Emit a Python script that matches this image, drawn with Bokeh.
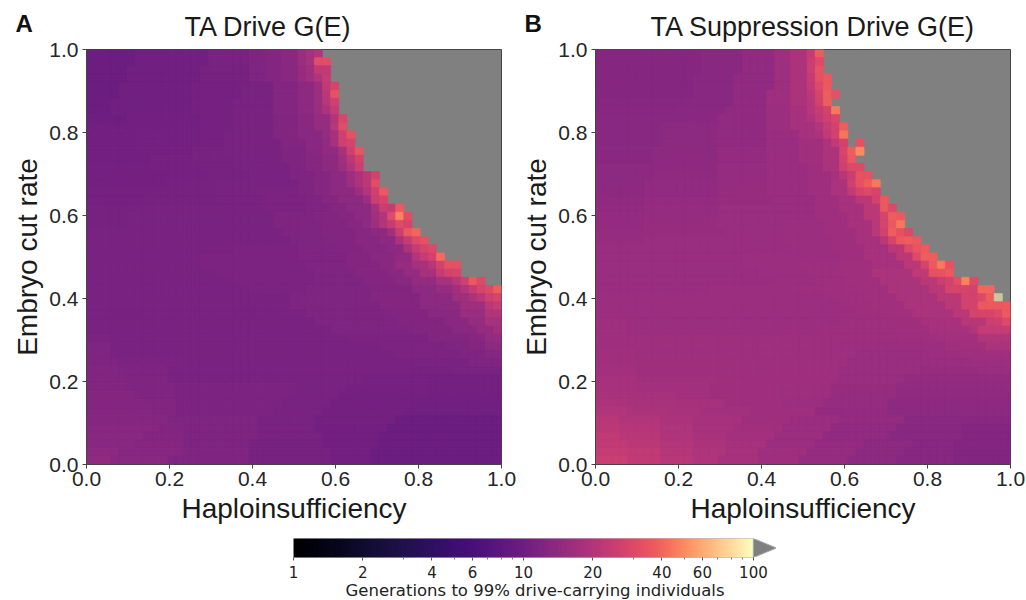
import numpy as np
from bokeh.plotting import figure
from bokeh.layouts import column, row
from bokeh.models import ColumnDataSource, LogColorMapper, Label, FixedTicker, NumeralTickFormatter
from bokeh.palettes import Magma256
from bokeh.transform import transform
from bokeh.embed import file_html
from bokeh.resources import INLINE

# Each row runs from the top of the panel down; pairs are: generations, end column (exclusive).
# Cells past the last pair are "not reached" (grey); 0 marks one grey cell inside a row; 120 = above 100.
N_CELLS = 51
panel_a_rows = [
 [10,6,10.3,15,11.3,20,12,22,12.6,24,13.5,26,15.5,27,17.5,28,20,29],
 [9.9,6,10.3,15,11.3,20,12,22,12.6,24,13.5,26,15.5,27,17.5,28,32,30],
 [9.8,5,10.3,14,11.1,20,12,22,12.6,24,13.5,26,15,27,17,28,23,30],
 [9.8,5,10.3,14,11,20,11.9,22,12.5,24,13.3,26,15,27,17,28,20,29,24,30],
 [9.7,4,10.2,13,10.8,19,11.5,23,12.6,26,14,28,16,29,23,30,28,31],
 [9.7,4,10.2,13,10.8,19,11.5,23,12.6,26,14,28,16,29,22,30,34,31],
 [9.7,3,10.2,13,10.8,18,11.5,23,12.5,26,13.7,28,16,29,21,30,26,31],
 [10,3,10.3,13,10.8,18,11.5,23,12.5,26,13.7,28,15.5,29,19,30,24,31],
 [10.1,5,10.4,14,10.8,18,11.4,23,12.4,26,13.5,28,15,30,20,31,29,32],
 [10.3,6,10.5,14,10.9,18,11.4,23,12.3,26,13.3,28,15,30,21,31,32,32],
 [10.4,6,10.6,14,10.9,17,11.4,23,12.2,26,13.3,29,15,30,18,31,26,32,33,33],
 [10.4,6,10.6,14,10.9,17,11.4,24,12.2,27,13.2,29,14.5,30,18,31,26,32,28,33],
 [10.5,6,10.7,13,11,17,11.4,24,12.1,27,13,29,14.5,31,18,32,26,33,35,34],
 [10.5,8,10.8,13,11,18,11.4,24,12,27,12.8,29,14,31,17,32,22,33,27,34],
 [10.6,8,10.9,14,11.1,19,11.4,25,12,27,12.7,29,13.8,31,16,32,20,33,25,34],
 [10.6,10,10.9,15,11.1,20,11.5,25,12,28,12.7,30,13.8,32,16,33,19,34,22,35,27,36],
 [10.7,10,11,16,11.2,21,11.5,26,12,28,12.7,30,13.8,32,16,33,19,34,22,35,32,36],
 [10.8,8,11,16,11.3,21,11.6,26,12,28,12.8,30,13.8,33,16,34,20,35,26,36,36,37],
 [10.9,7,11.1,16,11.3,22,11.7,27,12.1,29,12.8,31,13.8,34,16,35,25,36,28,37],
 [11,6,11.2,16,11.4,22,11.7,27,12.1,30,12.8,32,13.8,35,18,36,25,37,24,38,36,39],
 [11,5,11.2,16,11.4,23,11.8,28,12.2,31,12.8,33,14,35,17,36,20,37,31,38,48,39,32,40],
 [11.1,5,11.3,16,11.5,23,11.8,29,12.2,32,13,34,14.2,35,16,36,20,37,24,38,30,39,28,40],
 [11.2,5,11.4,17,11.5,24,11.9,29,12.3,33,13,35,14,37,17,38,25,39,36,40,40,41],
 [11.3,6,11.4,17,11.5,25,11.9,30,12.3,33,13,36,14,38,19,39,24,40,30,41,33,42],
 [11.4,6,11.5,18,11.6,26,12,31,12.4,34,13,37,14,39,19,40,24,41,28,42,30,43],
 [11.5,14,11.6,26,12,32,12.5,35,13.1,38,14.5,40,20,41,24,42,27,43,42,44],
 [11.5,14,11.6,27,12,32,12.5,36,13.2,38,15,40,18,42,21,43,27,44,33,46],
 [11.5,16,11.6,28,11.9,33,12.5,37,13.3,39,14.7,41,17.5,43,24,44,27,45,28,46],
 [11.5,18,11.6,28,11.9,34,12.5,38,13.3,40,14.7,43,17.5,45,21,46,26,47,36,48,30,49],
 [11.5,20,11.6,27,11.9,35,12.4,40,13.6,43,15,45,17,46,20,47,24,48,28,49,30,50,38,51],
 [11.5,25,11.9,35,12.5,41,14,45,16.5,47,19,48,22,49,26,50,28,51],
 [11.5,25,11.9,36,12.5,41,13.6,46,16.5,49,22,50,24,51],
 [11.5,27,11.9,37,12.4,42,13.3,46,15.5,49,20,51],
 [11.5,28,11.8,38,12.4,44,13.3,47,15,49,18,51],
 [11.5,30,11.8,40,12.4,45,13.3,48,14.6,50,17,51],
 [11.6,3,11.4,32,11.7,42,12.2,47,13,49,14.6,51],
 [11.8,3,11.4,36,11.6,44,11.9,47,12.5,49,13.6,51],
 [12,3,11.5,38,11.6,46,12,49,12.8,51],
 [12.1,4,11.6,12,11.5,36,11.3,42,11.5,47,12,51],
 [12.2,4,11.8,10,11.5,30,11.3,40,11.1,45,11.5,51],
 [12.4,5,12,10,11.5,26,11.3,34,10.8,42,10.6,51],
 [12.4,5,12,11,11.6,26,11.3,32,10.8,42,10.6,51],
 [12.5,6,12.1,11,11.7,25,11.2,31,10.7,42,10.5,51],
 [12.5,7,12.2,11,11.7,24,11.2,30,10.6,40,10.3,51],
 [12.6,8,12.2,11,11.7,23,11.2,29,10.6,39,10.2,51],
 [12.7,10,11.8,21,11.2,28,10.6,38,10,51],
 [12.9,9,12.4,12,11.8,21,11.2,28,10.5,37,10,51],
 [13.1,7,12.6,12,11.9,21,11.2,29,10.5,36,9.9,51],
 [13.3,6,12.7,12,11.9,20,11.1,29,10.5,36,9.8,51],
 [13.6,4,13,12,12,20,11.1,30,10.5,35,9.7,51],
 [14.2,3,13.2,10,12.1,20,11.1,30,10.5,35,9.7,51],
]
panel_b_rows = [
 [12.8,13,13.3,18,14.5,22,16.5,24,19,26,24,27,38,28],
 [12.8,13,13.3,18,14.5,22,16.5,24,19,26,25,27,30,28],
 [12.8,13,13.3,18,14.5,22,16.5,24,19,26,25,27,34,28],
 [12.8,12,13.3,17,14.5,22,16.5,24,19,26,24,27,33,28,36,29],
 [12.8,12,13.3,17,14.5,22,16.5,24,19,26,23,27,30,28,36,29],
 [12.8,12,13.2,17,14.5,21,16.5,24,18.5,26,22,27,28,28,38,29,33,30],
 [12.9,11,13.3,17,14.5,21,16.5,24,18.5,26,21,27,27,28,38,29],
 [13,10,13.4,16,14.5,21,16,24,18,26,21,27,24,28,27,29,46,30],
 [13.1,9,13.5,15,14.5,21,16,24,17.5,26,20,27,23,28,26,29,29,30],
 [13.2,8,13.6,15,14.5,21,16,24,17.5,27,20,28,24,29,27,30,38,31],
 [13.3,8,13.7,15,14.5,21,15.8,25,17.5,27,19,28,23,29,27,30,44,31],
 [13.3,8,13.7,15,14.5,21,15.8,25,17,28,19,29,23,30,27,31,0,32,33,33],
 [13.4,7,13.8,15,14.7,21,15.8,25,17,28,19,30,28,31,38,32,50,33],
 [13.5,7,13.9,15,14.8,21,15.8,25,17,28,19,30,27,31,36,32],
 [13.6,7,14,15,15,21,15.8,26,16.8,28,18.5,30,26,31,30,33],
 [13.7,7,14.2,15,15,21,15.8,26,16.8,29,18,30,21,31,25,32,34,34],
 [13.9,6,14.4,15,15.1,21,15.8,26,16.8,29,18.5,31,26,32,33,33,38,34,45,35],
 [14,6,14.5,15,15.2,21,15.8,26,16.8,29,18.5,31,23,32,28,33,30,34,28,35],
 [14.2,6,14.7,15,15.3,22,15.8,27,16.8,30,18,32,22,34,27,35,36,36],
 [14.4,6,14.9,15,15.4,22,15.9,27,16.8,30,18,33,22,35,36,36,30,37],
 [14.6,6,15,15,15.5,22,15.9,27,16.8,31,18,33,22,35,28,36,38,37,36,38],
 [14.8,6,15.2,15,15.6,23,16,28,16.8,31,18,34,22,35,28,36,36,37,45,38],
 [15,6,15.3,16,15.7,23,16,28,16.8,32,18,34,22,35,27,36,38,37,33,38,30,39],
 [15.2,6,15.4,16,15.8,23,16.1,29,16.8,32,18,35,22,36,28,37,36,38,38,39,36,40],
 [15.4,8,15.6,17,15.9,24,16.1,29,16.8,33,18,36,22,38,30,39,35,40,37,41],
 [15.5,8,15.7,18,16,24,16.2,30,16.8,33,18,37,22,39,30,40,38,42],
 [15.6,8,15.8,18,16,25,16.3,30,17,34,18,38,22,40,28,41,36,42,46,43,34,44],
 [15.6,10,15.8,20,16.1,26,16.4,30,17,34,18.5,39,23,41,33,42,34,43,37,44],
 [15.7,12,15.9,22,16.2,27,16.5,31,17,35,18.5,40,22,42,25,43,27,44,32,45,48,46,30,47],
 [15.9,14,16,24,16.3,28,16.6,32,17,36,18.5,41,22,43,28,44,28,46,27,47,40,49],
 [16,16,16.1,28,16.5,33,17,37,18.5,42,22,45,27,47,30,48,38,49,120,50],
 [16,20,16.2,30,16.6,34,17,38,18.5,43,22,45,27,47,36,51],
 [16.1,22,16.2,32,16.6,35,17,39,18.5,44,22,46,28,49,30,50,37,51],
 [16.3,4,16.1,30,16.4,36,16.8,40,18,45,21,48,25,49,26,50,30,51],
 [16.5,4,16.2,28,16.4,37,16.8,41,18,46,20,47,24,51],
 [16.6,4,16.3,30,16.4,38,16.4,42,17.4,47,20,51],
 [16.7,5,16.4,20,16.3,30,16,40,16.2,43,17,48,18.5,51],
 [16.9,5,16.5,16,16.3,32,15.8,41,16,45,16.8,51],
 [17.1,5,16.6,15,16.4,31,15.6,41,15.7,46,16,51],
 [17.3,5,16.8,15,16.5,30,15.5,40,15.2,47,15.4,51],
 [17.5,5,17,15,16.6,30,15.5,38,14.8,51],
 [17.8,5,17.3,14,16.7,22,16.3,29,15.3,37,14.5,51],
 [18.3,4,17.8,10,17.3,14,16.8,22,16.3,29,15,37,14.2,51],
 [19,4,18.3,10,17.6,16,16.8,23,16,28,15,36,14,51],
 [20,4,19,9,18.2,13,17.4,19,16.6,27,14.8,36,13.6,51],
 [21,3,20,8,19,12,17.8,18,16.8,24,15.8,30,14.6,38,13.2,51],
 [21.8,3,20.6,8,19.4,12,18,17,17,23,15.8,29,14.5,37,13.2,45,12.8,51],
 [22.5,3,21.2,8,19.8,12,18.4,16,17.2,22,16,28,14.5,36,13.1,45,12.6,51],
 [23.2,4,21.8,8,20.2,12,18.8,16,17.5,21,16.2,27,14.8,33,13.8,39,13,44,12.5,51],
 [24,4,22.5,8,20.8,12,19.2,16,17.8,20,16.5,26,15,32,13.8,38,13,44,12.4,51],
 [25,4,23,8,21,12,19.5,15,18,20,16.6,25,15,31,13.8,37,13,44,12.3,51],
]
x_ticks = [0.0, 0.2, 0.4, 0.6, 0.8, 1.0]
cbar_ticks = [1, 2, 4, 6, 10, 20, 40, 60, 100]
cbar_minor = [3, 5, 7, 8, 9, 30, 50, 70, 80, 90]
cbar_low, cbar_high, cbar_tip = 1, 100, 126
# position along the colour bar -> position along magma
warp_f = [0, .30, .39, .50, .65, .80, .89, 1]
warp_t = [0, .17, .23, .325, .49, .67, .82, 1]

FONT = "Liberation Sans"
GREY = "#808080"
palette = [Magma256[int(round(np.interp(i / 255, warp_f, warp_t) * 255))] for i in range(256)]
mapper = LogColorMapper(palette=palette, low=cbar_low, high=cbar_high, high_color="#c8c8a0")


def cells(rows):
    d = dict(left=[], right=[], top=[], bottom=[], v=[])
    for k, r in enumerate(rows):
        start = 0
        for v, end in zip(r[0::2], r[1::2]):
            for c in range(start, end):
                if v > 0:
                    d["left"].append(c / N_CELLS)
                    d["right"].append((c + 1) / N_CELLS)
                    d["top"].append(1 - k / N_CELLS)
                    d["bottom"].append(1 - (k + 1) / N_CELLS)
                    d["v"].append(v)
            start = end
    return ColumnDataSource(d)


def panel(rows, title, letter, border_left, border_right, title_offset):
    p = figure(frame_width=415, frame_height=415, x_range=(0, 1), y_range=(0, 1),
               output_backend="svg", toolbar_location=None, title=title,
               min_border_left=border_left, min_border_right=border_right,
               min_border_top=49, min_border_bottom=66, background_fill_color=GREY)
    c = transform("v", mapper)
    p.quad(left="left", right="right", top="top", bottom="bottom", source=cells(rows),
           fill_color=c, line_color=c, line_width=0.7)
    p.grid.visible = False
    p.title.align = "left"
    p.title.offset = title_offset
    p.title.text_font = FONT
    p.title.text_font_style = "normal"
    p.title.text_font_size = "27px"
    p.title.text_color = "#1a1a1a"
    p.title.standoff = 16
    p.outline_line_color = "#444444"
    for ax, lab in ((p.xaxis[0], "Haploinsufficiency"), (p.yaxis[0], "Embryo cut rate")):
        ax.ticker = FixedTicker(ticks=x_ticks)
        ax.formatter = NumeralTickFormatter(format="0.0")
        ax.minor_tick_line_color = None
        ax.axis_label = lab
        ax.axis_label_text_font = FONT
        ax.axis_label_text_font_style = "normal"
        ax.axis_label_text_font_size = "28px"
        ax.axis_label_text_color = "#1a1a1a"
        ax.major_label_text_font = FONT
        ax.major_label_text_font_size = "21px"
        ax.major_label_text_color = "#262626"
        ax.major_tick_line_color = "#444444"
        ax.major_tick_out = 4
        ax.major_tick_in = 0
        ax.axis_line_color = "#444444"
    p.xaxis[0].major_label_standoff = 3
    p.xaxis[0].axis_label_standoff = 4
    p.yaxis[0].major_label_standoff = 4
    p.yaxis[0].major_label_orientation = "horizontal"
    p.yaxis[0].axis_label_standoff = 3
    # A Label in the frame's own panel is clipped to it; in a side panel it is not.
    p.add_layout(Label(x=-0.171, y=1.029, text=letter, text_font=FONT, text_font_style="bold",
                       text_font_size="24px", text_color="#111111"), "right")
    return p


p1 = panel(panel_a_rows, "TA Drive G(E)", "A", 86, 9, 98)
p2 = panel(panel_b_rows, "TA Suppression Drive G(E)", "B", 77, 16, 55)

cb = figure(frame_width=483, frame_height=19, x_axis_type="log",
            x_range=(cbar_low, cbar_tip), y_range=(0, 1), y_axis_location=None,
            output_backend="svg", toolbar_location=None,
            min_border_left=293, min_border_right=0, min_border_top=8, min_border_bottom=43)
edges = np.logspace(np.log10(cbar_low), np.log10(cbar_high), 257)
cb.quad(left=edges[:-1], right=edges[1:], bottom=0, top=1, fill_color=palette, line_color=palette, line_width=1.5)
cb.quad(left=[cbar_low], right=[cbar_high], bottom=[0], top=[1], fill_color=None, line_color="#aaaaaa", line_width=1)
cb.patch([cbar_high, cbar_tip, cbar_high], [0, 0.5, 1], fill_color=GREY, line_color="#aaaaaa", line_width=1)
cb.grid.visible = False
cb.outline_line_color = None
ax = cb.xaxis[0]
ax.ticker = FixedTicker(ticks=cbar_ticks, minor_ticks=cbar_minor)
ax.formatter = NumeralTickFormatter(format="0")
ax.axis_line_color = None
ax.major_tick_line_color = "#555555"
ax.minor_tick_line_color = "#777777"
ax.major_tick_out = 3
ax.major_tick_in = 0
ax.minor_tick_out = 2
ax.minor_tick_in = 0
ax.major_label_text_font = "DejaVu Sans"
ax.major_label_text_font_size = "15px"
ax.major_label_text_color = "#222222"
ax.major_label_standoff = 5
ax.axis_label = "Generations to 99% drive-carrying individuals"
ax.axis_label_text_font = "DejaVu Sans"
ax.axis_label_text_font_style = "normal"
ax.axis_label_text_font_size = "16.5px"
ax.axis_label_text_color = "#222222"
ax.axis_label_standoff = 0

page = column(row(p1, p2, spacing=0), cb, spacing=0)
open("out.html", "w").write(file_html(page, INLINE))
